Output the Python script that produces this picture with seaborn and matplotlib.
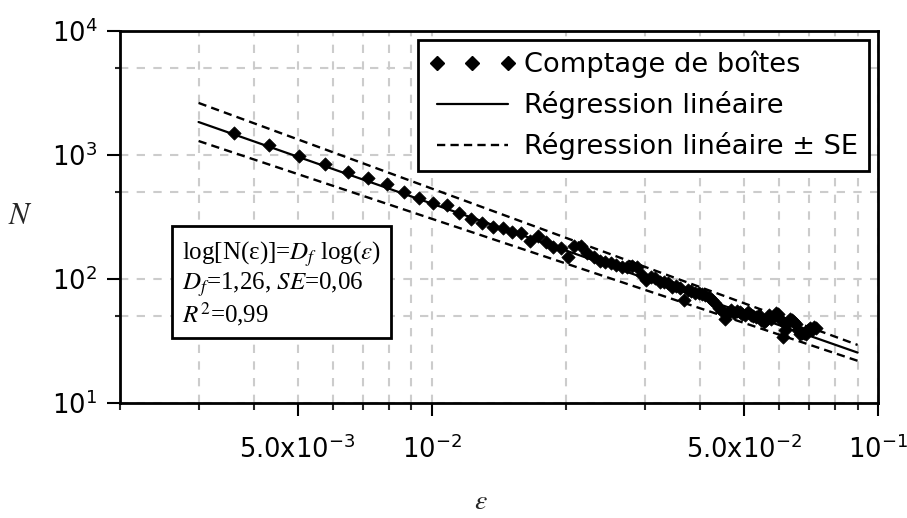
import matplotlib
matplotlib.use("Agg")
import pandas as pd
import matplotlib.pyplot as plt
import seaborn as sns
from matplotlib.lines import Line2D
from matplotlib.ticker import FixedLocator, FixedFormatter, NullFormatter

# box size in pixels, converted to epsilon
box_px = [5, 6, 7, 8, 9, 10, 11, 12, 13, 14, 15, 16, 17, 18, 19, 20,
          21, 22, 23, 24, 25, 26, 27, 28, 29, 30, 31, 32, 33, 34, 35, 36,
          37, 38, 39, 40, 41, 42, 43, 44, 45, 46, 47, 48, 49, 50, 51, 52,
          53, 54, 55, 56, 57, 58, 59, 60, 61, 62, 63, 64, 65, 66, 67, 68,
          69, 70, 71, 72, 73, 74, 75, 76, 77, 78, 79, 80, 81, 82, 83, 84,
          85, 86, 87, 88, 89, 90, 91, 92, 93, 94, 95, 96, 97, 98, 99, 100, 101]
px_to_eps = 0.00072

# number of boxes counted
box_count = [1500, 1205, 982, 846, 729, 653, 584, 503, 450, 410, 392, 341,
             305, 285, 262, 256, 241, 235, 202, 224, 200, 181, 178, 150,
             186, 184, 162, 150, 140, 136, 134, 130, 126, 125, 128, 124,
             108, 98, 103, 101, 95, 94, 92, 86, 87, 85, 68, 81, 80, 77,
             77, 76, 74, 72, 68, 64, 58, 55, 48, 53, 56, 53, 55, 54, 52,
             51, 54, 51, 50, 49, 51, 47, 45, 47, 51, 48, 50, 53, 52, 47,
             34, 39, 43, 48, 47, 45, 43, 39, 36, 37, 37, 36, 39, 40, 39,
             41, 40]

# regression line and +/- SE lines (end points)
fit_eps = [0.003, 0.09]
fit_N = [1845, 25.5]
fit_N_hi = [2630, 29.4]
fit_N_lo = [1297, 21.9]

x_major = [0.005, 0.01, 0.05, 0.1]
x_major_labels = [r"$\mathregular{5.0x10^{-3}}$", r"$\mathregular{10^{-2}}$",
                  r"$\mathregular{5.0x10^{-2}}$", r"$\mathregular{10^{-1}}$"]
x_minor = [0.002, 0.003, 0.004, 0.006, 0.007, 0.008, 0.009,
           0.02, 0.03, 0.04, 0.06, 0.07, 0.08, 0.09]
y_major = [10, 100, 1000, 10000]
y_major_labels = [r"$\mathregular{10^{1}}$", r"$\mathregular{10^{2}}$",
                  r"$\mathregular{10^{3}}$", r"$\mathregular{10^{4}}$"]
y_minor = [50, 500, 5000]

sns.set_theme(style="white")
plt.rcParams["font.family"] = ["DejaVu Sans"]
plt.rcParams["mathtext.fontset"] = "stix"
plt.rcParams["text.color"] = "black"

df = pd.DataFrame({"eps": [b * px_to_eps for b in box_px], "N": box_count})

fig = plt.figure(figsize=(9.07, 5.18), dpi=100)
ax = fig.add_axes([120 / 907, 115 / 518, 758 / 907, 372 / 518])
ax.set_xscale("log")
ax.set_yscale("log")

sns.lineplot(x=fit_eps, y=fit_N_hi, color="black", linewidth=1.7, ax=ax)
sns.lineplot(x=fit_eps, y=fit_N_lo, color="black", linewidth=1.7, ax=ax)
sns.lineplot(x=fit_eps, y=fit_N, color="black", linewidth=1.6, ax=ax)
for ln in ax.lines[:2]:
    ln.set_dashes((3.5, 2.2))
sns.scatterplot(data=df, x="eps", y="N", marker="D", s=46, color="black",
                edgecolor="black", linewidth=0.5, ax=ax, zorder=3)

ax.set_xlim(0.002, 0.1)
ax.set_ylim(10, 10000)

ax.xaxis.set_major_locator(FixedLocator(x_major))
ax.xaxis.set_major_formatter(FixedFormatter(x_major_labels))
ax.xaxis.set_minor_locator(FixedLocator(x_minor))
ax.xaxis.set_minor_formatter(NullFormatter())
ax.yaxis.set_major_locator(FixedLocator(y_major))
ax.yaxis.set_major_formatter(FixedFormatter(y_major_labels))
ax.yaxis.set_minor_locator(FixedLocator(y_minor))
ax.yaxis.set_minor_formatter(NullFormatter())

ax.grid(which="both", color="#cccccc", linestyle=(0, (4, 4)), linewidth=1.5)
ax.set_axisbelow(True)
for sp in ax.spines.values():
    sp.set_linewidth(2)
    sp.set_color("black")

ax.tick_params(axis="x", which="major", direction="out", length=9.5, width=1.5,
               pad=14, labelsize=18.5, colors="black", bottom=True)
ax.tick_params(axis="x", which="minor", direction="out", length=5, width=1.5,
               bottom=True)
ax.tick_params(axis="y", which="major", direction="out", length=9.5, width=1.5,
               pad=7, labelsize=18.5, colors="black", left=True)
ax.tick_params(axis="y", which="minor", direction="out", length=3.5, width=1.5,
               left=True)

ax.set_xlabel(r"$\varepsilon$", fontsize=20)
ax.xaxis.set_label_coords(0.476, -0.225)
ax.set_ylabel(r"$N$", fontsize=22, rotation=0, va="center", ha="center")
ax.yaxis.set_label_coords(-0.131, 0.505)

handles = [
    Line2D([], [], linestyle="none", marker="D", markersize=7,
           color="black"),
    Line2D([], [], color="black", linewidth=1.6),
    Line2D([], [], color="black", linewidth=1.7, dashes=(3.5, 2.2)),
]
labels = ["Comptage de boîtes", "Régression linéaire",
          "Régression linéaire ± SE"]
leg = ax.legend(handles, labels, loc="upper right",
                bbox_to_anchor=(0.988, 0.976), borderaxespad=0,
                fontsize=19.6, numpoints=3, handlelength=3.2,
                handletextpad=0.3, labelspacing=0.48, borderpad=0.4,
                fancybox=False, framealpha=1, edgecolor="black")
leg.get_frame().set_linewidth(2)
for t in leg.get_texts():
    t.set_color("black")

ax.text(0.0818, 0.44,
        "log[N(ε)]=$D_f$ log($\\varepsilon$)\n$D_f$=1,26, $SE$=0,06\n$R^2$=0,99",
        transform=ax.transAxes, ha="left", va="top", fontsize=18,
        family="Liberation Serif", linespacing=1.05,
        bbox=dict(boxstyle="square,pad=0.4", facecolor="white",
                  edgecolor="black", linewidth=2))

fig.savefig("out.png", dpi=100)
